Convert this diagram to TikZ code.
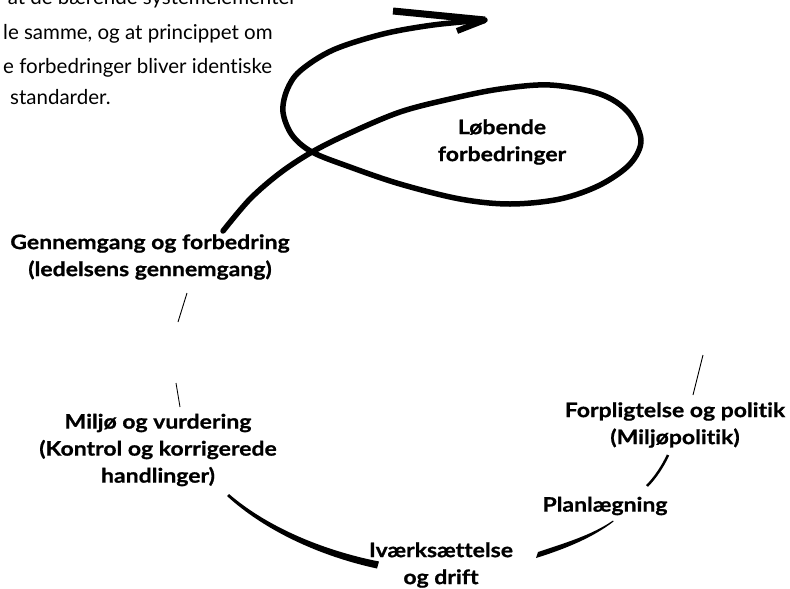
\documentclass[tikz,border=0pt]{standalone}
\usepackage{fontspec}
\setmainfont[Ligatures=NoCommon]{Lato}
\newfontfamily\lblfont[FakeStretch=1.15, FakeBold=0.8, Ligatures=NoCommon]{Lato Bold}

\tikzset{
  lbl/.style={font=\lblfont\fontsize{20}{27}\selectfont, align=center, inner sep=0pt},
  txt/.style={font=\fontsize{20.5}{24}\selectfont, inner sep=0pt},
  spiral/.style={line width=5.5pt, line cap=round, line join=round},
  hair/.style={line width=0.9pt},
}

\begin{document}
\begin{tikzpicture}[x=1pt, y=-1pt]

   \useasboundingbox (0,0) rectangle (790,589);

   % text at the top, cut by the page
   \node[txt, anchor=base east] (t1) at (297,5) {at de bærende systemelementer};
   \node[txt, anchor=base west] (t2) at (3,39) {le samme, og at princippet om};
   \node[txt, anchor=base west] (t3) at (3,73) {e forbedringer bliver identiske};
   \node[txt, anchor=base west] (t4) at (10,104) {standarder.};

   % labels
   \node[lbl] (lob) at (502,142) {Løbende\\forbedringer};
   \node[lbl] (genn) at (150,257) {Gennemgang og forbedring\\(ledelsens gennemgang)};
   \node[lbl] (milj) at (158,450) {Miljø og vurdering\\(Kontrol og korrigerede\\handlinger)};
   \node[lbl] (ivaerk) at (441,565) {Iværksættelse\\og drift};
   \node[lbl] (plan) at (605,506) {Planlægning};
   \node[lbl] (forpl) at (675,425) {Forpligtelse og politik\\(Miljøpolitik)};

   % ends of the arcs
   \coordinate (gstart) at (223,231);
   \coordinate (cross) at (312,152);
   \coordinate (tip) at (485,20);
   \coordinate (barbU) at (393,11);
   \coordinate (barbL) at (457,31);

   % spiral round the ellipse
   \draw[spiral] plot[smooth, tension=0.55] coordinates {(gstart) (250,199) (280,173) (cross)
      (350,133) (400,112) (450,99) (500,89) (550,85) (600,94) (628,112) (641,140)
      (630,164) (600,185) (560,199) (510,204) (460,199) (400,184) (350,167) (cross)
      (292,135) (283,112) (287,90) (300,71) (333,50) (383,34) (433,25) (tip)};
   \draw[line width=7pt] (barbU) -- (tip);
   \draw[line width=6pt] (barbL) -- (tip);

   % the cycle
   \fill (229,494) .. controls (266,526) and (321,550) .. (379,561.5)
      -- (377,568.5) .. controls (319,556) and (264,530) .. (227,496) -- cycle;
   \fill (538,552) .. controls (565,543) and (592,535) .. (613,520.5)
      -- (613.5,521.5) .. controls (593,537.5) and (565,549) .. (536,558) -- cycle;
   \draw[line width=2.5pt] (647,486) .. controls (655,478) and (663,466) .. (668,455);
   \draw[hair] (703,355) -- (693,395);
   \draw[hair] (187,293) -- (178,322);
   \draw[hair] (176,383) -- (178,395) -- (180,407);

\end{tikzpicture}
\end{document}
